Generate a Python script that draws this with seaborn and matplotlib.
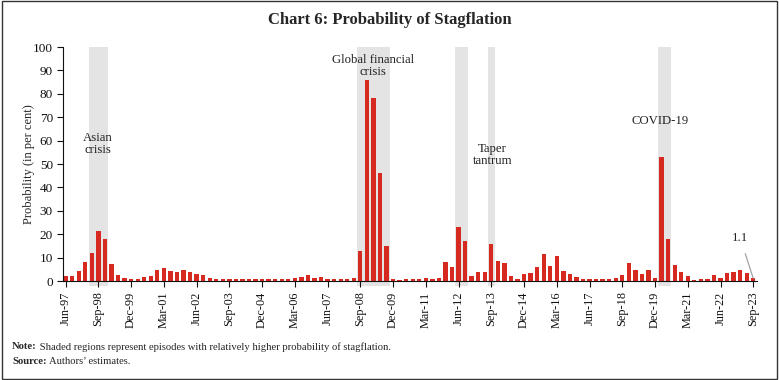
import pandas as pd
import numpy as np
import seaborn as sns
import matplotlib.pyplot as plt
from matplotlib.patches import Rectangle

# quarterly labels Jun-97 ... Sep-23
quarters = list(pd.date_range('1997-06-01', '2023-09-01', freq='3MS').strftime('%b-%y'))

probability = [
    2.3, 2.1, 4.3, 8.0, 12.0, 21.5, 18.0, 7.1, 2.6, 1.3,
    1.0, 1.0, 1.6, 2.1, 4.7, 5.4, 4.3, 3.8, 4.7, 3.8,
    3.1, 2.6, 1.1, 0.8, 0.7, 0.7, 0.7, 0.7, 0.7, 0.7,
    0.7, 0.7, 0.7, 0.7, 1.0, 1.2, 1.7, 2.4, 1.3, 1.7,
    0.7, 0.7, 0.7, 1.0, 1.1, 13.0, 86.0, 78.0, 46.0, 15.0,
    0.7, 0.4, 0.7, 0.7, 0.7, 1.1, 0.9, 1.3, 8.2, 6.0,
    23.2, 17.2, 2.2, 3.8, 3.8, 16.0, 8.6, 7.8, 2.2, 1.0,
    3.0, 3.5, 6.2, 11.6, 6.5, 10.5, 4.3, 3.0, 1.7, 0.9,
    0.7, 0.9, 0.9, 0.9, 1.1, 2.7, 7.8, 4.8, 3.2, 4.8,
    1.4, 53.0, 17.8, 6.7, 3.7, 2.3, 0.6, 0.9, 1.0, 2.7,
    1.4, 3.3, 3.9, 4.8, 3.6, 1.1,
]

# episodes (first and last quarter of each shaded band)
episodes = [('Jun-98', 'Dec-98'), ('Sep-08', 'Sep-09'), ('Jun-12', 'Sep-12'),
            ('Sep-13', 'Sep-13'), ('Mar-20', 'Jun-20')]
episode_names = ['Asian\ncrisis', 'Global financial\ncrisis', 'Taper\ntantrum', 'COVID-19']

sns.set_style('ticks')
plt.rcParams['font.family'] = ['Liberation Serif', 'DejaVu Serif']

fig = plt.figure(figsize=(7.79, 3.8), dpi=100)
ax = fig.add_axes([0.0813, 0.2605, 0.8907, 0.6158])

df = pd.DataFrame({'quarter': quarters, 'prob': probability})
sns.barplot(data=df, x='quarter', y='prob', color='#d62a20', saturation=1,
            width=0.66, linewidth=0, ax=ax, zorder=2)

# shaded episodes
for start, end in episodes:
    a = quarters.index(start) - 0.5
    b = quarters.index(end) + 0.5
    ax.axvspan(a, b, ymin=-0.02, ymax=1, color='#e4e4e4', zorder=0,
               clip_on=False, lw=0)

# episode labels
lab = dict(ha='center', va='center', fontsize=9.2, linespacing=1.0, color='#222222')
ax.text(4.9, 58.5, episode_names[0], **lab)
ax.text(46.9, 91.7, episode_names[1], **lab)
ax.text(65.2, 54, episode_names[2], **lab)
ax.text(90.8, 68.5, episode_names[3], **lab)

# last value
last = len(probability) - 1
ax.annotate(f'{probability[last]:.1f}', xy=(last, probability[last]),
            xytext=(103, 18.5), ha='center', va='center', fontsize=9.2,
            color='#222222',
            arrowprops=dict(arrowstyle='-', color='#999999', lw=0.8,
                            shrinkA=5, shrinkB=0))

ax.set_xlim(-0.35, 105.6)
ax.set_ylim(0, 100)
ax.set_yticks(range(0, 101, 10))
ax.set_xticks(range(0, len(quarters), 5))
ax.set_xticklabels(quarters[::5], rotation=90)
ax.tick_params(axis='both', length=4, width=0.8, colors='#111111')
ax.tick_params(axis='x', labelsize=8.8)
ax.tick_params(axis='y', labelsize=9.5)
ax.set_xlabel('')
ax.set_ylabel('Probability (in per cent)', fontsize=9, labelpad=-1.8)
for s in ['left', 'bottom']:
    ax.spines[s].set_linewidth(0.8)
    ax.spines[s].set_color('#111111')
sns.despine(ax=ax)

fig.text(0.5, 0.948, 'Chart 6: Probability of Stagflation', ha='center',
         va='center', fontsize=12, fontweight='bold')

t1 = fig.text(0.0154, 0.087, 'Note:', fontsize=7.7, fontweight='bold', va='center')
ax.annotate(' Shaded regions represent episodes with relatively higher probability of stagflation.',
            xy=(1, 0.5), xycoords=t1, va='center', fontsize=7.7)
t2 = fig.text(0.0154, 0.05, 'Source:', fontsize=7.7, fontweight='bold', va='center')
ax.annotate(' Authors\u2019 estimates.', xy=(1, 0.5), xycoords=t2, va='center', fontsize=7.7)

fig.add_artist(Rectangle((0.002, 0.003), 0.996, 0.994, transform=fig.transFigure,
                         fill=False, lw=1, ec='#333333'))

fig.savefig('out.png', dpi=100)
